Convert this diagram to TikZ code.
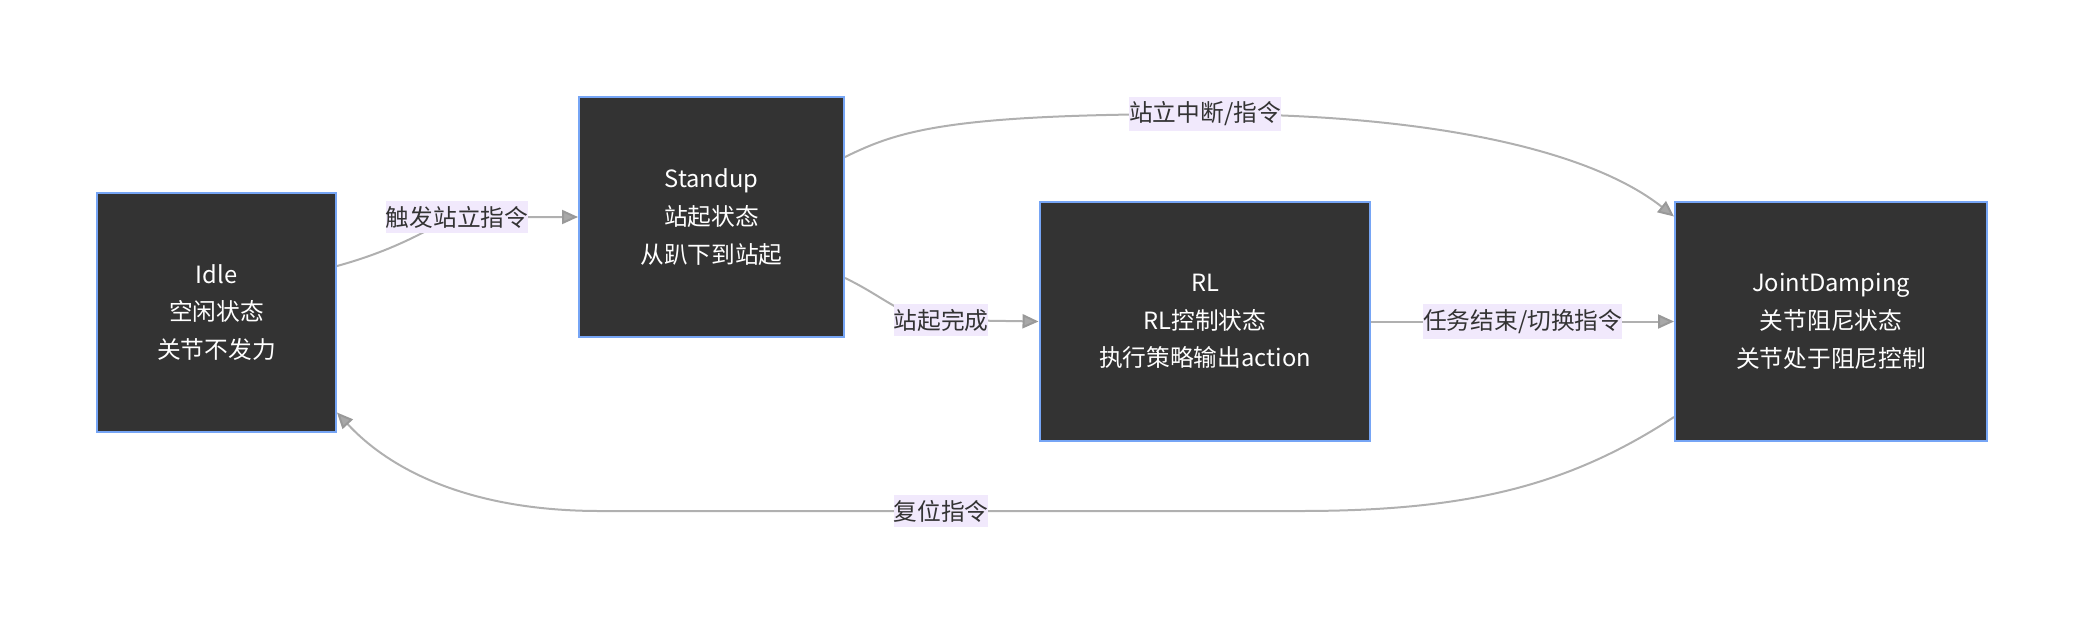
\documentclass[tikz,border=0pt]{standalone}
\usepackage{fontspec}
\setmainfont{Noto Sans CJK SC}
\usepackage{xcolor}
\usetikzlibrary{arrows.meta}

\definecolor{boxfill}{HTML}{333333}
\definecolor{boxline}{HTML}{76A5F5}
\definecolor{lblfill}{HTML}{F1E9FC}
\definecolor{lbltext}{HTML}{333333}
\definecolor{flowline}{HTML}{B0B0B0}
\definecolor{tipfill}{HTML}{A8A8A8}

\tikzset{
  state/.style={draw=boxline, line width=0.04cm, fill=boxfill, text=white,
    align=center, inner sep=0pt},
  edgelbl/.style={fill=lblfill, text=lbltext, inner xsep=0pt, inner ysep=0.1cm},
  flow/.style={draw=flowline, line width=0.04cm,
    -{Triangle[length=0.32cm, width=0.28cm, fill=tipfill, color=gray!80]}}
}

\begin{document}
\begin{tikzpicture}[x=0.02cm, y=-0.02cm, font=\fontsize{13.5pt}{21.5pt}\selectfont]
  \useasboundingbox (0,0) rectangle (2083,626);
  \node[state, minimum width=4.78cm, minimum height=4.78cm] (idle) at (216.5,312.5)
    {Idle\\空闲状态\\关节不发力};
  \node[state, minimum width=5.3cm, minimum height=4.8cm] (standup) at (711.5,217)
    {Standup\\站起状态\\从趴下到站起};
  \node[state, minimum width=6.62cm, minimum height=4.78cm] (rl) at (1205,321.5)
    {RL\\RL控制状态\\执行策略输出action};
  \node[state, minimum width=6.24cm, minimum height=4.78cm] (jd) at (1831,321.5)
    {JointDamping\\关节阻尼状态\\关节处于阻尼控制};

  \draw[flow] ([yshift=0.93cm]idle.east) .. controls (410,246) and (440,220) .. (457,217)
    node[edgelbl] {触发站立指令} -- (standup.west);
  \draw[flow] ([yshift=1.2cm]standup.east) .. controls (900,130) and (950,114) .. (1205,114)
    node[edgelbl] {站立中断/指令} .. controls (1430,114) and (1590,150) .. ([yshift=2.1cm]jd.west);
  \draw[flow] ([yshift=-1.22cm]standup.east) .. controls (885,297) and (905,320) .. (941,320)
    node[edgelbl] {站起完成} -- (rl.west);
  \draw[flow] (rl.east) -- node[edgelbl] {任务结束/切换指令} (jd.west);
  \draw[flow] ([yshift=-1.91cm]jd.west) .. controls (1570,485) and (1470,511) .. (1300,511)
    -- (941,511) node[edgelbl] {复位指令} -- (600,511)
    .. controls (470,511) and (390,470) .. ([yshift=-2cm]idle.east);
\end{tikzpicture}
\end{document}
